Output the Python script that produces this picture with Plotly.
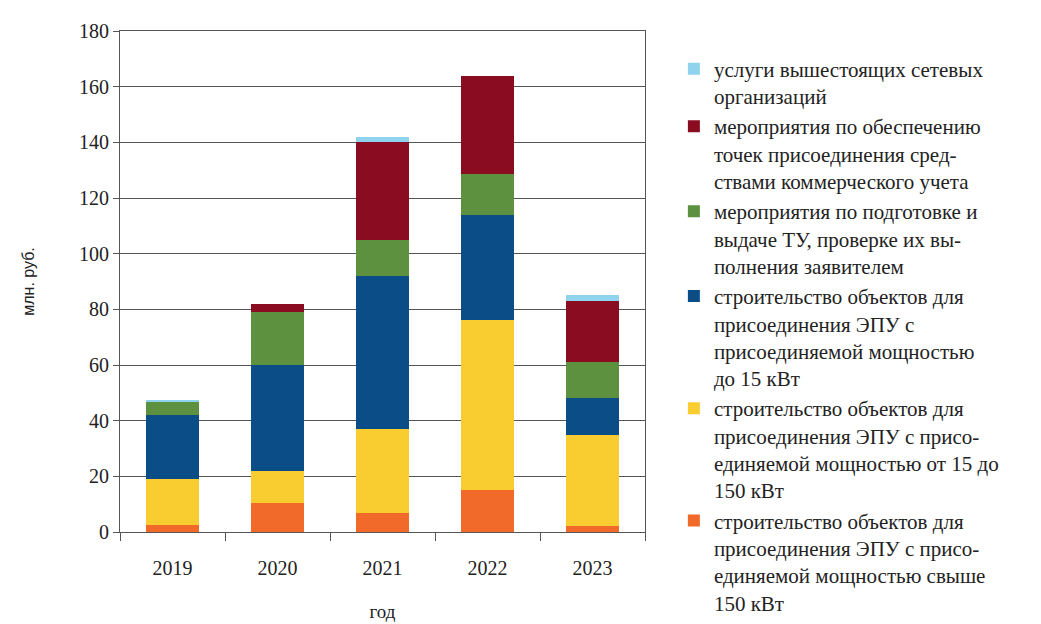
import plotly.graph_objects as go

years = ["2019", "2020", "2021", "2022", "2023"]

over150 = [2.5, 10.5, 7, 15, 2]
from15to150 = [16.5, 11.5, 30, 61, 33]
upto15 = [23, 38, 55, 38, 13]
tu = [5, 19, 13, 14.5, 13]
metering = [0, 3, 35, 35.5, 22]
upstream = [0.5, 0, 2, 0, 2]

names = [
    "строительство объектов для<br>присоединения ЭПУ с присо-<br>единяемой мощностью свыше<br>150 кВт",
    "строительство объектов для<br>присоединения ЭПУ с присо-<br>единяемой мощностью от 15 до<br>150 кВт",
    "строительство объектов для<br>присоединения ЭПУ с<br>присоединяемой мощностью<br>до 15 кВт",
    "мероприятия по подготовке и<br>выдаче ТУ, проверке их вы-<br>полнения заявителем",
    "мероприятия по обеспечению<br>точек присоединения сред-<br>ствами коммерческого учета",
    "услуги вышестоящих сетевых<br>организаций",
]
series = [over150, from15to150, upto15, tu, metering, upstream]
colors = ["#f26a2a", "#f9cc30", "#0b4d86", "#5d9140", "#8a0c20", "#8fd3ef"]

fig = go.Figure()
for n, s, c in zip(names, series, colors):
    fig.add_trace(go.Bar(x=years, y=s, name=n, marker=dict(color=c, line=dict(width=0))))

serif = "'Liberation Serif', 'Times New Roman', serif"
fig.update_layout(
    barmode="stack",
    bargap=0.5,
    width=1041, height=624,
    paper_bgcolor="white", plot_bgcolor="white",
    margin=dict(l=112, r=404, t=12, b=100),
    font=dict(family=serif, size=18, color="#222"),
    legend=dict(
        traceorder="reversed",
        x=1.055, y=0.965, xanchor="left", yanchor="top",
        font=dict(family=serif, size=21, color="#222"),
        tracegroupgap=4,
        itemwidth=30,
        valign="top",
        maxheight=620,
    ),
    xaxis=dict(
        title=dict(text="год", font=dict(family=serif, size=19), standoff=26),
        showline=True, linecolor="#555", mirror=True,
        ticks="outside", tickson="boundaries", ticklen=8, tickcolor="#555",
        tickfont=dict(family=serif, size=20),
        ticklabelstandoff=18,
    ),
    yaxis=dict(
        title=dict(text="млн. руб.", font=dict(family="'Liberation Sans', Arial, sans-serif", size=16), standoff=40),
        range=[0, 180], dtick=20,
        showline=True, linecolor="#555", mirror=True,
        gridcolor="#555", gridwidth=1,
        ticks="outside", ticklen=6, tickcolor="#555",
        tickfont=dict(family=serif, size=20),
        zeroline=False,
    ),
)

fig.write_html("out.html")
